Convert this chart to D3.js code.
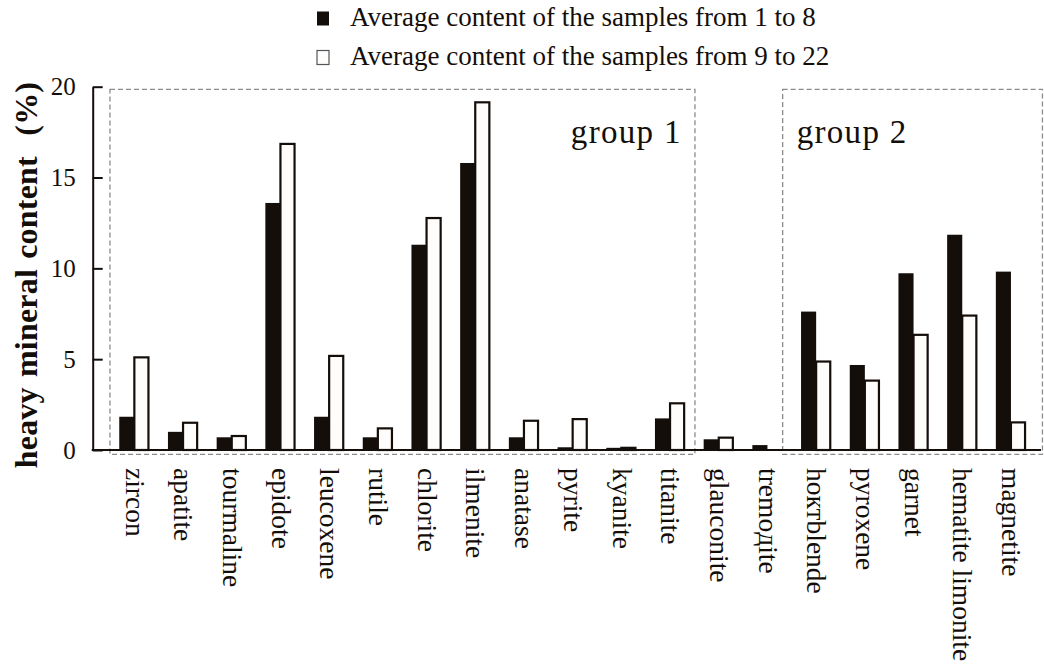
<!DOCTYPE html>
<html>
<head>
<meta charset="utf-8">
<script src="https://cdn.jsdelivr.net/npm/d3@7"></script>
<style>
  html, body { margin: 0; padding: 0; background: #ffffff; }
  svg { display: block; font-family: "Liberation Serif", "Times New Roman", serif; }
</style>
</head>
<body>
<svg id="chart" width="1044" height="664"></svg>
<script>
// Heavy mineral contents, two sample sets
const categories = ["zircon", "apatite", "tourmaline", "epidote", "leucoxene", "rutile",
  "chlorite", "ilmenite", "anatase", "pyrite", "kyanite", "titanite",
  "glauconite", "tremoдite", "hoктblende", "pyroxene", "garnet",
  "hematite limonite", "magnetite"];
const samples1to8 = [1.83, 1.0, 0.7, 13.6, 1.83, 0.7, 11.3, 15.8, 0.7, 0.15, 0.12, 1.74,
  0.59, 0.27, 7.62, 4.68, 9.73, 11.85, 9.82];
const samples9to22 = [5.1, 1.5, 0.77, 16.85, 5.18, 1.19, 12.77, 19.14, 1.61, 1.7, 0.12, 2.57,
  0.68, 0, 4.87, 3.82, 6.34, 7.4, 1.52];
const seriesNames = ["Average content of the samples from 1 to 8",
  "Average content of the samples from 9 to 22"];
const yTicks = [0, 5, 10, 15, 20];
const group1 = ["zircon", "titanite"];
const group2 = ["hoктblende", "magnetite"];
const groupNames = ["group 1", "group 2"];

const serif = "'Liberation Serif', 'Times New Roman', serif";
const ink = "#140e0a";
const paper = "#fffdfb";
const svg = d3.select("#chart");

const x = d3.scaleBand().domain(categories).range([110, 1035.3])
  .paddingInner(0.38).paddingOuter(0.19);
const xSub = d3.scaleBand().domain([0, 1]).range([0, x.bandwidth()]);
const y = d3.scaleLinear().domain([0, 20]).range([450, 86.7]);
const axisX = 92.7;

// dashed group frames
function frame(range, padL, padR) {
  const x0 = x(range[0]) - padL;
  const x1 = x(range[1]) + x.bandwidth() + padR;
  svg.append("rect")
    .attr("x", x0).attr("y", y(20) + 2.6)
    .attr("width", x1 - x0).attr("height", y(0) - y(20) + 1.8)
    .attr("fill", "none").attr("stroke", "#8c8c8c")
    .attr("stroke-width", 1.3).attr("stroke-dasharray", "5,3");
}
frame(group1, 9.3, 9.8);
frame(group2, 18.4, 16.4);

svg.append("text").attr("x", 681.7).attr("y", 143).attr("text-anchor", "end")
  .attr("font-family", serif).attr("font-size", 33).attr("letter-spacing", 1.3)
  .attr("fill", ink).text(groupNames[0]);
svg.append("text").attr("x", 796.7).attr("y", 143)
  .attr("font-family", serif).attr("font-size", 33).attr("letter-spacing", 1.3)
  .attr("fill", ink).text(groupNames[1]);

// bars
const rows = categories.map((c, i) => ({ c, v: [samples1to8[i], samples9to22[i]] }));
const g = svg.append("g");
g.selectAll("rect.s0").data(rows).join("rect").attr("class", "s0")
  .attr("x", d => x(d.c) + xSub(0))
  .attr("y", d => y(d.v[0]))
  .attr("width", xSub.bandwidth())
  .attr("height", d => y(0) - y(d.v[0]))
  .attr("fill", ink);
g.selectAll("rect.s1").data(rows.filter(d => d.v[1] > 0)).join("rect").attr("class", "s1")
  .attr("x", d => x(d.c) + xSub(1))
  .attr("y", d => y(d.v[1]))
  .attr("width", xSub.bandwidth() - 1)
  .attr("height", d => y(0) - y(d.v[1]))
  .attr("fill", paper).attr("stroke", ink).attr("stroke-width", 2.2);

// y axis with inward ticks
const yAxis = svg.append("g").attr("transform", `translate(${axisX},0)`)
  .call(d3.axisLeft(y).tickValues(yTicks).tickSizeInner(-10).tickSizeOuter(0).tickPadding(17));
yAxis.attr("font-family", serif);
yAxis.select(".domain").attr("stroke", ink).attr("stroke-width", 2);
yAxis.selectAll(".tick line").attr("stroke", ink).attr("stroke-width", 2);
yAxis.selectAll(".tick text").attr("font-size", 25).attr("fill", ink);

// x axis line and rotated category labels
svg.append("line").attr("x1", axisX - 1).attr("x2", 1041).attr("y1", y(0)).attr("y2", y(0))
  .attr("stroke", ink).attr("stroke-width", 2);
const xAxis = svg.append("g").attr("transform", `translate(0,${y(0)})`)
  .call(d3.axisBottom(x).tickSize(0).tickPadding(0));
xAxis.attr("font-family", serif);
xAxis.select(".domain").remove();
xAxis.selectAll(".tick text")
  .attr("font-size", 27.5).attr("fill", ink)
  .attr("transform", "translate(0,18) rotate(90)")
  .attr("text-anchor", "start").attr("x", 0).attr("y", 0).attr("dy", "0.32em");

// y axis title
svg.append("text")
  .attr("transform", "translate(37,275) rotate(-90)")
  .attr("text-anchor", "middle").attr("font-family", serif)
  .attr("font-size", 32).attr("font-weight", "bold")
  .attr("fill", ink).attr("letter-spacing", 0.2).attr("word-spacing", 2)
  .text("heavy mineral content\u00a0\u00a0(%)");

// legend
const legend = svg.append("g");
seriesNames.forEach((name, i) => {
  const ly = 26 + i * 39;
  legend.append("rect").attr("x", 317).attr("y", ly - 14.5).attr("width", 12).attr("height", 14)
    .attr("fill", i === 0 ? ink : paper).attr("stroke", i === 0 ? "none" : "#555")
    .attr("stroke-width", 1.2);
  legend.append("text").attr("x", 350).attr("y", ly).attr("font-family", serif)
    .attr("font-size", 27).attr("fill", ink).text(name);
});
</script>
</body>
</html>
